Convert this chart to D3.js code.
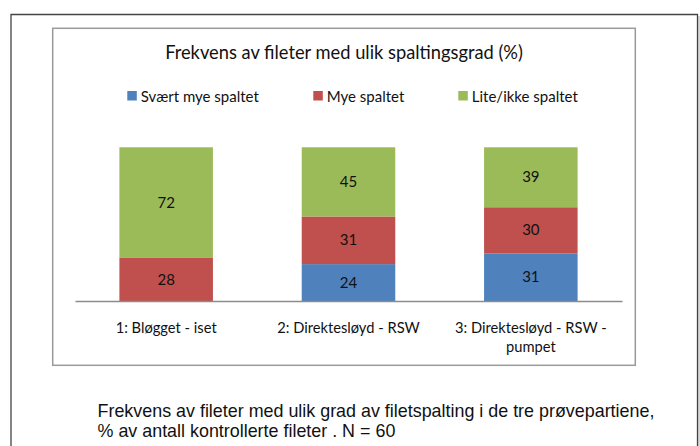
<!DOCTYPE html>
<html>
<head>
<meta charset="utf-8">
<script src="https://cdn.jsdelivr.net/npm/d3@7/dist/d3.min.js"></script>
<style>
  html, body { margin: 0; padding: 0; background: #fff; }
  svg { display: block; }
  text { font-family: Lato, "Open Sans", sans-serif; fill: #111; }
  .caption { font-family: "Liberation Sans", Arial, sans-serif; }
</style>
</head>
<body>
<svg id="chart" width="700" height="446"></svg>
<script>
// ---- data ----
const categories = [["1: Bløgget - iset"], ["2: Direktesløyd - RSW"], ["3: Direktesløyd - RSW -", "pumpet"]];
const seriesNames = ["Svært mye spaltet", "Mye spaltet", "Lite/ikke spaltet"];
const sværtMye = [0, 24, 31];
const mye = [28, 31, 30];
const liteIkke = [72, 45, 39];
const colors = ["#4F81BD", "#C0504D", "#9BBB59"];
const title = "Frekvens av fileter med ulik spaltingsgrad (%)";
const captionLines = ["Frekvens av fileter med ulik grad av filetspalting i de tre prøvepartiene,",
                      "% av antall kontrollerte fileter . N = 60"];

const svg = d3.select("#chart");

// outer frame with soft shadow
svg.append("line").attr("x1", 699).attr("x2", 699).attr("y1", 16).attr("y2", 446)
  .attr("stroke", "#d8d8d8").attr("stroke-width", 2);
svg.append("path").attr("d", "M11,447 L11,14.5 L697.5,14.5 L697.5,447")
  .attr("fill", "none").attr("stroke", "#444").attr("stroke-width", 1.3);

// inner chart area
svg.append("rect").attr("x", 52.7).attr("y", 28.3).attr("width", 582.6).attr("height", 337)
  .attr("fill", "#fff").attr("stroke", "#9a9a9a").attr("stroke-width", 1.5);

// title
svg.append("text").attr("x", 344).attr("y", 59.3).attr("text-anchor", "middle")
  .style("font-size", "18.3px").text(title);

// legend
const legendX = [127.3, 313.3, 458.3];
seriesNames.forEach((name, i) => {
  svg.append("rect").attr("x", legendX[i]).attr("y", 91).attr("width", 9.5).attr("height", 9.5)
    .attr("fill", colors[i]);
  svg.append("text").attr("x", legendX[i] + 13.5).attr("y", 101.5)
    .style("font-size", "15px").text(name);
});

// scales
const x = d3.scaleBand().domain(d3.range(categories.length)).range([75, 622])
  .paddingInner(0.487).paddingOuter(0.2435);
const y = d3.scaleLinear().domain([0, 100]).range([301, 147.3]);

const rows = categories.map((c, i) => ({ i, s0: sværtMye[i], s1: mye[i], s2: liteIkke[i] }));
const stack = d3.stack().keys(["s0", "s1", "s2"])(rows);

stack.forEach((layer, k) => {
  const g = svg.append("g");
  layer.forEach(d => {
    const v = d[1] - d[0];
    if (v <= 0) return;
    g.append("rect")
      .attr("x", x(d.data.i)).attr("width", x.bandwidth())
      .attr("y", y(d[1])).attr("height", y(d[0]) - y(d[1]))
      .attr("fill", colors[k]);
    g.append("text")
      .attr("x", x(d.data.i) + x.bandwidth() / 2)
      .attr("y", (y(d[0]) + y(d[1])) / 2 + 5.2)
      .attr("text-anchor", "middle")
      .style("font-size", "15px").text(v);
  });
});

// x axis
const xAxis = d3.axisBottom(x).tickSize(0).tickFormat("");
const ax = svg.append("g").attr("transform", "translate(0,301)").call(xAxis);
ax.select(".domain").attr("stroke", "#8c8c8c").attr("stroke-width", 1.5);

categories.forEach((lines, i) => {
  const t = svg.append("text").attr("text-anchor", "middle").style("font-size", "14.7px");
  lines.forEach((ln, j) => {
    t.append("tspan").attr("x", x(i) + x.bandwidth() / 2).attr("y", 332.7 + j * 19).text(ln);
  });
});

// caption
captionLines.forEach((ln, j) => {
  svg.append("text").attr("class", "caption").attr("x", 97.5).attr("y", 416.7 + j * 20)
    .style("font-size", "17.9px").text(ln);
});
</script>
</body>
</html>
